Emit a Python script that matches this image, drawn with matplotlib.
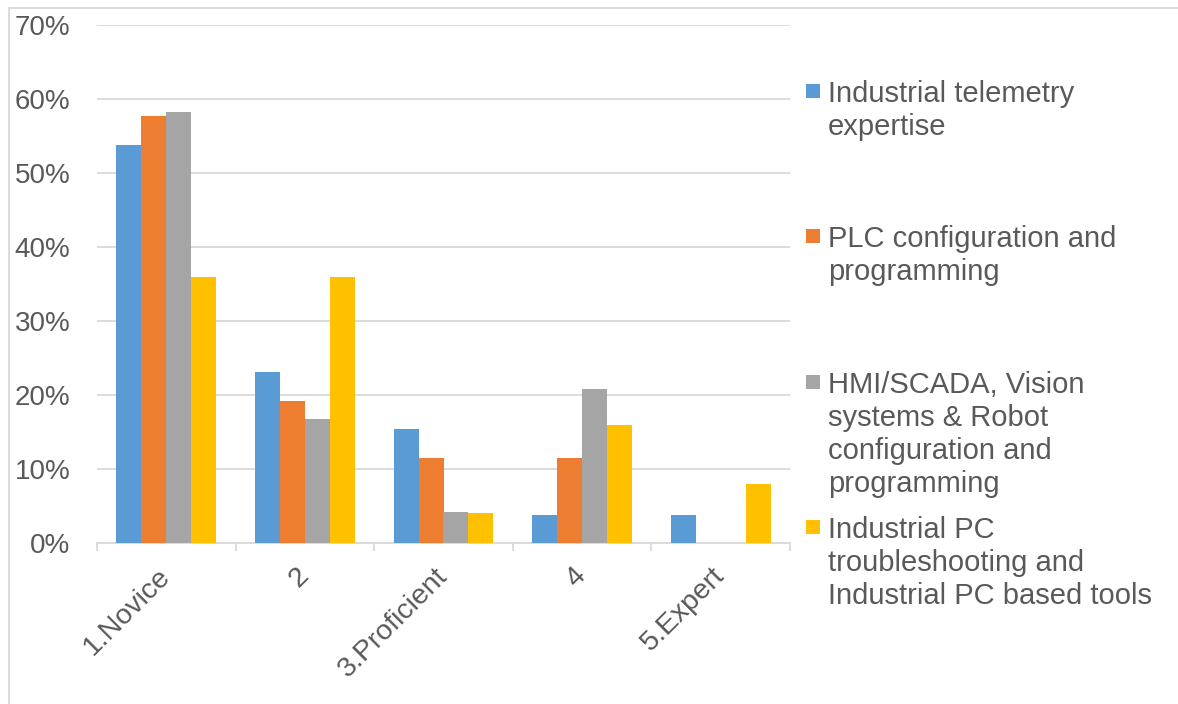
import numpy as np
import matplotlib.pyplot as plt
from matplotlib.patches import Rectangle
from matplotlib.ticker import PercentFormatter, FixedLocator

plt.rcParams['font.family'] = ['Liberation Sans', 'DejaVu Sans']

# skill levels on the x axis
levels = ["1.Novice", "2", "3.Proficient", "4", "5.Expert"]

# share of respondents per level, in percent
telemetry = [53.8, 23.1, 15.4, 3.8, 3.8]
plc = [57.7, 19.2, 11.5, 11.5, 0.0]
hmi_scada = [58.3, 16.7, 4.2, 20.8, 0.0]
industrial_pc = [36.0, 36.0, 4.0, 16.0, 8.0]

series_names = [
    "Industrial telemetry\nexpertise",
    "PLC configuration and\nprogramming",
    "HMI/SCADA, Vision\nsystems & Robot\nconfiguration and\nprogramming",
    "Industrial PC\ntroubleshooting and\nIndustrial PC based tools",
]
series_values = [telemetry, plc, hmi_scada, industrial_pc]
colors = ["#5B9BD5", "#ED7D31", "#A5A5A5", "#FFC000"]

text_col = "#595959"
grid_col = "#D9D9D9"

W, H = 1178, 704
fig = plt.figure(figsize=(W / 100, H / 100), dpi=100)

# outer chart frame (runs off the right and bottom edges)
fig.patches.append(Rectangle((9 / W, -0.1), 1.2, 1 - 8 / H + 0.1,
                             transform=fig.transFigure, fill=False,
                             edgecolor=grid_col, linewidth=1.3))

ax = fig.add_axes([97 / W, 1 - 543 / H, (790 - 97) / W, (543 - 25) / H])

x = np.arange(len(levels))
width = 0.18
for i, (vals, col) in enumerate(zip(series_values, colors)):
    ax.bar(x + (i - 1.5) * width, vals, width, color=col, zorder=3)

ax.set_xlim(-0.5, len(levels) - 0.5)
ax.set_ylim(0, 70)
ax.set_yticks(np.arange(0, 71, 10))
ax.yaxis.set_major_formatter(PercentFormatter(decimals=0))
ax.grid(axis='y', color=grid_col, linewidth=1.3, zorder=0)

for side in ['left', 'right', 'top']:
    ax.spines[side].set_visible(False)
ax.spines['bottom'].set_color(grid_col)
ax.spines['bottom'].set_linewidth(1.3)

ax.tick_params(axis='y', length=0, pad=19, labelsize=20, labelcolor=text_col)
ax.set_xticks(x)
ax.set_xticklabels(levels, rotation=45, ha='right', va='center',
                   rotation_mode='anchor')
ax.tick_params(axis='x', which='major', length=0, pad=21, labelsize=20.5,
               labelcolor=text_col)
ax.xaxis.set_minor_locator(FixedLocator(np.arange(len(levels) + 1) - 0.5))
ax.tick_params(axis='x', which='minor', length=6, width=1.3, color=grid_col,
               direction='out')

# legend on the right, one entry per series (y = first-line baseline in px)
baselines = [101, 246, 392, 537]
for name, col, yb in zip(series_names, colors, baselines):
    fig.patches.append(Rectangle((806 / W, 1 - (yb - 3) / H), 14 / W, 14 / H,
                                 transform=fig.transFigure, facecolor=col,
                                 edgecolor='none'))
    fig.text(828 / W, 1 - (yb - 21) / H, name, fontsize=21, color=text_col,
             va='top', ha='left', linespacing=1.22)

fig.savefig("out.png", dpi=100)
